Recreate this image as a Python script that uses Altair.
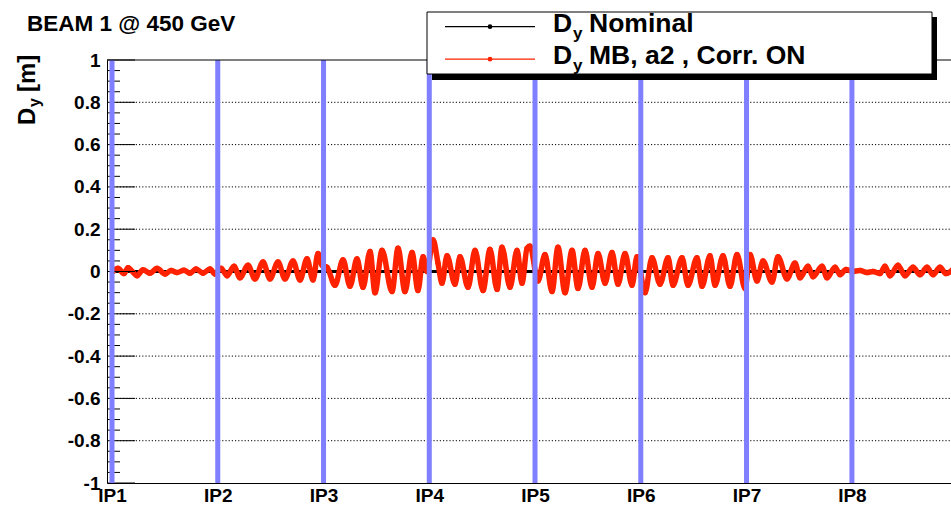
import altair as alt
import pandas as pd

FONT = "Liberation Sans"
RED = "#ff2200"
BLUE = "#7f7fff"

# Interaction points along the ring [m]
ip_names = ["IP1", "IP2", "IP3", "IP4", "IP5", "IP6", "IP7", "IP8"]
ip_pos = [0, 3332, 6665, 9997, 13329, 16662, 19994, 23315]

# Vertical dispersion, MB a2 errors with correction ON: local extrema along s [m]
s_m = [
    32, 189, 378, 504, 788, 977, 1197, 1418, 1670, 1859, 2048, 2269, 2458, 2647, 2867, 3088, 3246,
    3435, 3624, 3844, 4033, 4285, 4506, 4758, 4979, 5231, 5451, 5703, 5924, 6144, 6334, 6491, 6617,
    6775, 7027, 7279, 7499, 7720, 7909, 8130, 8287, 8508, 8823, 9012, 9232, 9453, 9642, 9800, 9926,
    10115, 10272, 10398, 10556, 10808, 10965, 11218, 11438, 11690, 11911, 12131, 12289, 12541, 12762, 12919, 13077, 13171,
    13423, 13644, 13864, 14053, 14274, 14495, 14684, 14905, 15125, 15314, 15535, 15755, 15944, 16165, 16385, 16543,
    16795, 17015, 17267, 17520, 17677, 17961, 18150, 18433, 18591, 18843, 19001, 19253, 19473, 19694, 19946,
    20103, 20324, 20513, 20797, 20986, 21269, 21521, 21679, 21931, 22089, 22372, 22530, 22782, 22939, 23128,
    23317, 23569, 23790, 23979, 24200, 24357, 24515, 24767, 24987, 25240, 25460, 25681, 25870, 26090, 26279, 26500,
]
dy_mb = [
    0.0, 0.015, -0.01, 0.018, -0.02, 0.008, -0.008, 0.015, -0.012, 0.005, -0.005, 0.006, -0.008, 0.012, -0.008, 0.012, -0.012,
    0.015, -0.02, 0.025, -0.03, 0.03, -0.035, 0.045, -0.035, 0.045, -0.035, 0.05, -0.04, 0.06, -0.04, 0.085, 0.03,
    0.02, -0.065, 0.055, -0.07, 0.06, -0.075, 0.095, -0.1, 0.1, -0.095, 0.11, -0.095, 0.09, -0.09, 0.07, 0.0,
    0.15, 0.04, -0.055, 0.075, -0.06, 0.07, -0.075, 0.1, -0.09, 0.105, -0.085, 0.115, -0.075, 0.1, -0.055, 0.11, 0.12,
    -0.045, 0.08, -0.095, 0.115, -0.1, 0.1, -0.08, 0.1, -0.075, 0.085, -0.055, 0.09, -0.06, 0.085, -0.065, 0.07,
    -0.1, 0.065, -0.06, 0.065, -0.065, 0.065, -0.065, 0.065, -0.07, 0.075, -0.065, 0.075, -0.07, 0.08, -0.08,
    0.08, -0.045, 0.05, -0.05, 0.07, -0.035, 0.04, -0.03, 0.025, -0.025, 0.025, -0.03, 0.02, -0.015, 0.01,
    0.0, 0.005, -0.005, 0.0, -0.01, 0.025, -0.02, 0.03, -0.02, 0.02, -0.015, 0.02, -0.015, 0.02, -0.01, 0.01,
]
# Nominal machine: no vertical dispersion
dy_nominal = [0.0 for _ in s_m]

y_major = [-1, -0.8, -0.6, -0.4, -0.2, 0, 0.2, 0.4, 0.6, 0.8, 1]
y_grid = [-0.8, -0.6, -0.4, -0.2, 0, 0.2, 0.4, 0.6, 0.8]
y_minor = [round(-1 + 0.05 * i, 2) for i in range(41) if i % 4 != 0]

title_text = "BEAM 1 @ 450 GeV"
legend_labels = ["Nominal", "MB, a2 , Corr. ON"]
legend_colors = ["black", RED]

W, H = 844, 423

xscale = alt.Scale(domain=[-158, 26437], nice=False, zero=False)
yscale = alt.Scale(domain=[-1, 1], nice=False, zero=False)

ip_label_expr = " : ".join(
    f"datum.value == {p} ? '{n}'" for p, n in zip(ip_pos, ip_names)
) + " : ''"

x_axis = alt.Axis(
    values=ip_pos, labelExpr=ip_label_expr, title=None, grid=False, ticks=False,
    domain=True, domainColor="black", domainWidth=1,
    labelFont=FONT, labelFontSize=19, labelFontWeight="bold", labelColor="black",
    labelPadding=3, labelFlush=False, labelOverlap=False,
)
y_axis = alt.Axis(
    values=y_major, labelExpr="replace(format(datum.value, '.1~f'), '\u2212', '-')",
    title=None, grid=False,
    ticks=False, domain=True, domainColor="black", domainWidth=1,
    labelFont=FONT, labelFontSize=19, labelFontWeight="bold", labelColor="black",
    labelPadding=7, labelFlush=False, labelOverlap=False,
)
x_enc = alt.X("s:Q", scale=xscale, axis=x_axis)
y_enc = alt.Y("dy:Q", scale=yscale, axis=y_axis)

nominal_df = pd.DataFrame({"s": s_m, "dy": dy_nominal})
mb_df = pd.DataFrame({"s": s_m, "dy": dy_mb})

# Dotted horizontal grid at the labelled values
grid = alt.Chart(pd.DataFrame({"dy": y_grid})).mark_rule(
    color="black", strokeWidth=1, strokeDash=[1.2, 2]
).encode(y=y_enc, x=alt.value(0), x2=alt.value(W))

nominal = alt.Chart(nominal_df).mark_line(color="black", strokeWidth=3).encode(x=x_enc, y=y_enc)
mb = alt.Chart(mb_df).mark_line(
    color=RED, strokeWidth=5.5, interpolate="monotone", strokeJoin="round"
).encode(x=x_enc, y=y_enc)
mb_pts = alt.Chart(mb_df).mark_point(
    filled=True, color=RED, size=28, opacity=1, shape="circle"
).encode(x=x_enc, y=y_enc)

# Inward ticks on the left frame
major_ticks = alt.Chart(pd.DataFrame({"dy": y_major})).mark_rule(color="black", strokeWidth=1).encode(
    y=y_enc, x=alt.value(0), x2=alt.value(28)
)
minor_ticks = alt.Chart(pd.DataFrame({"dy": y_minor})).mark_rule(color="black", strokeWidth=1).encode(
    y=y_enc, x=alt.value(0), x2=alt.value(13)
)

# Interaction point markers
ip_lines = alt.Chart(pd.DataFrame({"s": ip_pos})).mark_rule(color=BLUE, strokeWidth=5).encode(x=x_enc)

one = pd.DataFrame({"k": [0]})

top_frame = alt.Chart(one).mark_rule(color="black", strokeWidth=1).encode(
    x=alt.value(0), x2=alt.value(W), y=alt.value(0)
)


def text(t, x, y, size, angle=0, color="black"):
    return alt.Chart(one).mark_text(
        text=t, align="left", baseline="alphabetic", font=FONT, fontWeight="bold",
        fontSize=size, angle=angle, color=color,
    ).encode(x=alt.value(x), y=alt.value(y))


title = text(title_text, -80, -29, 22.5)

# Y-axis title: D_y [m], written bottom-to-top
ytitle = [
    text("D", -72, 65, 24, angle=270),
    text("y", -67, 47, 16, angle=270),
    text("[m]", -72, 32, 24, angle=270),
]

# Legend box with drop shadow
shadow = alt.Chart(one).mark_rect(fill="black").encode(
    x=alt.value(325), x2=alt.value(830), y=alt.value(-43), y2=alt.value(20)
)
box = alt.Chart(one).mark_rect(fill="white", stroke="black", strokeWidth=1).encode(
    x=alt.value(320), x2=alt.value(825), y=alt.value(-48), y2=alt.value(14)
)
legend_layers = [shadow, box]
for i, (lab, col) in enumerate(zip(legend_labels, legend_colors)):
    ly = -33.3 + 32.5 * i
    legend_layers.append(
        alt.Chart(one).mark_rule(color=col, strokeWidth=1.2).encode(
            x=alt.value(338), x2=alt.value(428), y=alt.value(ly)
        )
    )
    legend_layers.append(
        alt.Chart(one).mark_point(filled=True, color=col, size=22, opacity=1).encode(
            x=alt.value(383), y=alt.value(ly)
        )
    )
    legend_layers.append(text("D", 446, ly + 5, 26.5))
    legend_layers.append(text("y", 466, ly + 12, 17))
    legend_layers.append(text(lab, 482, ly + 5, 26.5))

chart = alt.layer(
    grid, nominal, mb, mb_pts, major_ticks, minor_ticks, ip_lines, top_frame, title,
    *ytitle, *legend_layers
).properties(
    width=W, height=H,
    padding={"left": 107, "top": 60, "right": 0, "bottom": 23},
    autosize=alt.AutoSizeParams(type="none"),
    background="white",
).configure_view(stroke=None)

chart.save("out.html", embed_options={"renderer": "svg", "actions": False})
